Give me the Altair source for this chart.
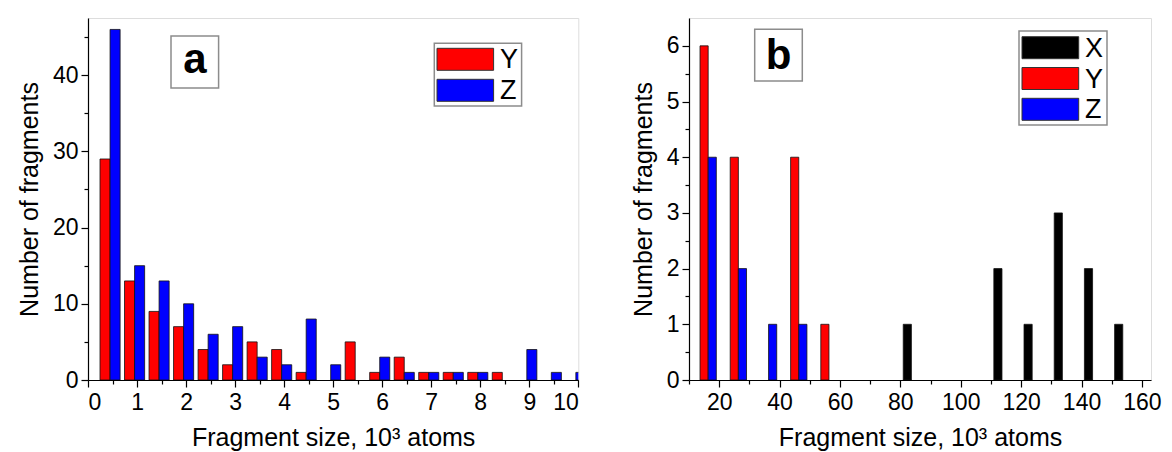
import altair as alt
import pandas as pd

FONT = "Liberation Sans"

# ---------------- data: panel a ----------------
bins_a = [0.45, 0.95, 1.45, 1.95, 2.45, 2.95, 3.45, 3.95, 4.45, 4.95,
          5.45, 5.95, 6.45, 6.95, 7.45, 7.95, 8.45, 8.95, 9.45, 9.95]
y_a = [29, 13, 9, 7, 4, 2, 5, 4, 1, 0, 5, 1, 3, 1, 1, 1, 1, 0, 0, 0]
z_a = [46, 15, 13, 10, 6, 7, 3, 2, 8, 2, 0, 3, 1, 1, 1, 1, 0, 4, 1, 1]

# ---------------- data: panel b ----------------
bins_b = [15, 25, 35, 45, 55, 65, 75, 85, 95, 105, 115, 125, 135, 145, 155]
x_b = [0, 0, 0, 0, 0, 0, 0, 1, 0, 0, 2, 1, 3, 2, 1]
y_b = [6, 4, 0, 4, 1, 0, 0, 0, 0, 0, 0, 0, 0, 0, 0]
z_b = [4, 2, 1, 1, 0, 0, 0, 0, 0, 0, 0, 0, 0, 0, 0]

x_title = "Fragment size, 10\u00b3 atoms"
y_title = "Number of fragments"

COLORS = {"X": "#000000", "Y": "#ff0000", "Z": "#0000ff"}


def bars_frame(bins, series, offsets, w):
    rows = []
    for name, vals in series.items():
        for c, v in zip(bins, vals):
            if v > 0:
                x0 = c + offsets[name] * w
                rows.append({"series": name, "x0": x0, "x1": x0 + w, "count": v})
    return pd.DataFrame(rows)


def make_axis(values, test, title, title_pad, label_pad=4):
    return alt.Axis(
        values=values,
        title=title,
        labelExpr=f"({test}) ? format(datum.value, 'd') : ''",
        tickSize={"condition": {"test": test, "value": 7}, "value": 4},
        tickColor="black", domainColor="black", tickWidth=1.2, domainWidth=1.2,
        labelFont=FONT, labelFontSize=23, labelColor="black", labelPadding=label_pad,
        titleFont=FONT, titleFontSize=25, titleFontWeight="normal", titleColor="black",
        titlePadding=title_pad, grid=False, labelOverlap=False,
    )


one = pd.DataFrame({"k": [0]})


def rect(x0, x1, y0, y1, fill, stroke, sw):
    return alt.Chart(one).mark_rect(fill=fill, stroke=stroke, strokeWidth=sw).encode(
        x=alt.value(x0), x2=alt.value(x1), y=alt.value(y0), y2=alt.value(y1))


def text(x, y, s, size, weight="normal", align="left", baseline="middle"):
    return alt.Chart(one).mark_text(font=FONT, fontSize=size, fontWeight=weight,
                                    align=align, baseline=baseline, color="black").encode(
        x=alt.value(x), y=alt.value(y), text=alt.value(s))


def legend_layers(names, bx0, bx1, by0, by1, sx0, sx1, sy0, pitch, sh, tx):
    layers = [rect(bx0, bx1, by0, by1, "white", "#8c8c8c", 1.5)]
    for i, n in enumerate(names):
        top = sy0 + i * pitch
        layers.append(rect(sx0, sx1, top, top + sh, COLORS[n], "#333333", 1))
        layers.append(text(tx, top + sh / 2 + 1, n, 27))
    return layers


def panel(df, xdom, ydom, xvals, xtest, yvals, ytest, w, h, letter_layers, leg_layers):
    bars = alt.Chart(df).mark_bar(stroke="#111111", strokeWidth=0.8, clip=True).encode(
        x=alt.X("x0:Q", scale=alt.Scale(domain=xdom, nice=False, zero=False),
                axis=make_axis(xvals, xtest, x_title, 11)),
        x2="x1:Q",
        y=alt.Y("count:Q", scale=alt.Scale(domain=ydom, nice=False),
                axis=make_axis(yvals, ytest, y_title, 10, 3)),
        y2=alt.datum(0),
        color=alt.Color("series:N", scale=alt.Scale(domain=list(COLORS), range=list(COLORS.values())),
                        legend=None),
    )
    return alt.layer(bars, *letter_layers, *leg_layers).properties(width=w, height=h)


df_a = bars_frame(bins_a, {"Y": y_a, "Z": z_a}, {"Y": -1, "Z": 0}, 0.205)
df_b = bars_frame(bins_b, {"X": x_b, "Y": y_b, "Z": z_b}, {"X": -1.5, "Y": -0.5, "Z": 0.5}, 2.7)

letter_a = [rect(83, 130.6, 18, 70, "white", "#8c8c8c", 1.5),
            text(107, 55.3, "a", 42, "bold", "center", "alphabetic")]
letter_b = [rect(65.7, 113.3, 11.3, 63, "white", "#8c8c8c", 1.5),
            text(89.7, 51.3, "b", 42, "bold", "center", "alphabetic")]

leg_a = legend_layers(["Y", "Z"], 346.3, 433.6, 25.3, 88, 349, 405.6, 30.3, 31, 22, 412)
leg_b = legend_layers(["X", "Y", "Z"], 330, 418, 13, 107, 333, 389.7, 18.7, 30.8, 22, 396)

pa = panel(df_a, [0, 10], [0, 47.5], [i * 0.5 for i in range(21)], "datum.value % 1 === 0",
           [i * 5 for i in range(10)], "datum.value % 10 === 0", 490.3, 362, letter_a, leg_a)
pb = panel(df_b, [10, 163], [0, 6.5], [i * 10 for i in range(1, 17)], "datum.value % 20 === 0",
           [i * 0.5 for i in range(13)], "datum.value % 1 === 0", 462, 362, letter_b, leg_b)

chart = alt.hconcat(pa, pb, spacing=50).properties(
    padding={"left": 8, "top": 9, "right": 0, "bottom": 0}
).configure_view(stroke=None).configure(background="white")

chart.save("out.html", embed_options={"renderer": "svg", "actions": False})
